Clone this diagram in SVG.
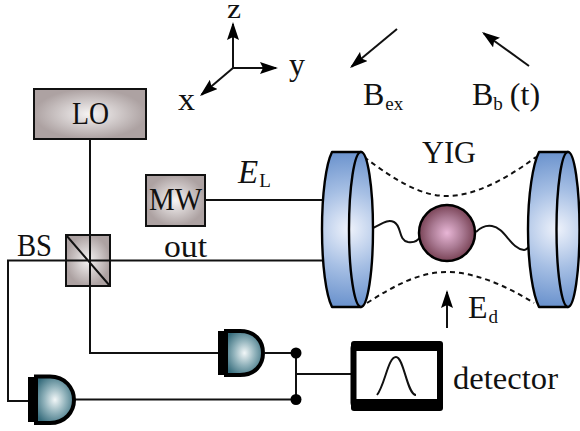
<svg xmlns="http://www.w3.org/2000/svg" width="580" height="431" viewBox="0 0 580 431">
<style>
text{font-family:"Liberation Serif","Times New Roman",serif;font-size:32px;fill:#111}
.sub{font-size:19px}
.ln{fill:none;stroke:#111;stroke-width:2}
.box{stroke:#111;stroke-width:2;fill:url(#grey)}
.cyl{stroke:#000;stroke-width:2.400;stroke-linejoin:round}
.dash{fill:none;stroke:#111;stroke-width:2;stroke-dasharray:5 4}
.dome{fill:url(#teal);stroke:#000;stroke-width:4}
</style>
<defs>
<radialGradient id="grey"><stop offset="0" stop-color="#f6f4f4"/><stop offset="1" stop-color="#ada2a2"/></radialGradient>
<radialGradient id="blueL" gradientUnits="userSpaceOnUse" cx="349" cy="229" r="78"><stop offset="0" stop-color="#eef2fb"/><stop offset="0.5" stop-color="#a6bfe4"/><stop offset="1" stop-color="#6a92cd"/></radialGradient>
<radialGradient id="blueR" gradientUnits="userSpaceOnUse" cx="557" cy="229" r="78"><stop offset="0" stop-color="#eef2fb"/><stop offset="0.5" stop-color="#a6bfe4"/><stop offset="1" stop-color="#6a92cd"/></radialGradient>
<radialGradient id="pink"><stop offset="0" stop-color="#e8b6d6"/><stop offset="0.55" stop-color="#ab7b94"/><stop offset="1" stop-color="#794356"/></radialGradient>
<radialGradient id="teal" cx="0.5" cy="0.5" r="0.58"><stop offset="0" stop-color="#f2f7f8"/><stop offset="0.5" stop-color="#8fb1ba"/><stop offset="1" stop-color="#356b7b"/></radialGradient>
<marker id="ah" viewBox="0 0 18 12" refX="16" refY="6" markerWidth="18" markerHeight="12" markerUnits="userSpaceOnUse" orient="auto"><path d="M0 0L18 6L0 12L3 6Z" fill="#000"/></marker>
</defs>

<g id="connectors">
<path class="ln" d="M90 139V353H220"/>
<path class="ln" d="M322 260.500H8V401H30"/>
<path class="ln" d="M205 200H323"/>
<path class="ln" d="M75 399.500H296M296 353V399.500M265 353H296M296 374H351"/>
<path class="ln" d="M373 228C382 224 387 219 394 222C402 226 398 240 408 242C414 243 418 241 421 236"/>
<path class="ln" d="M476 232C481 227 486 225 492 226C505 228 511 249 524 250C526 250 528 248 530 246"/>
<path class="dash" d="M364 157C395 180 420 196 447 196C474 196 505 180 536 157"/>
<path class="dash" d="M367 303C395 285 420 272 447 272C474 272 505 285 534 303"/>
<path class="ln" d="M447 328V292" marker-end="url(#ah)"/>
<path class="ln" d="M233 68V24" marker-end="url(#ah)"/>
<path class="ln" d="M233 68H276" marker-end="url(#ah)"/>
<path class="ln" d="M233 68L201.500 94.700" marker-end="url(#ah)"/>
<path class="ln" d="M397 29L351.500 66.700" marker-end="url(#ah)"/>
<path class="ln" d="M529 66L483.600 33.200" marker-end="url(#ah)"/>
</g>

<g id="lo"><rect class="box" x="34" y="89" width="112" height="50"/><text x="72" y="124" textLength="37" lengthAdjust="spacingAndGlyphs">LO</text></g>
<g id="mw"><rect class="box" x="146" y="175" width="59" height="51"/><text x="149" y="210" textLength="53" lengthAdjust="spacingAndGlyphs">MW</text></g>
<g id="bs"><rect class="box" x="66" y="235" width="44" height="51"/><path class="ln" d="M66 235L110 286M90 235V286M66 260.500H110"/><text x="17" y="256" textLength="35" lengthAdjust="spacingAndGlyphs">BS</text></g>
<g id="out-label"><text x="164" y="257" textLength="43" lengthAdjust="spacingAndGlyphs">out</text></g>
<g id="el-label"><text x="238" y="183" font-style="italic" style="font-size:33px">E<tspan class="sub" font-style="normal" dy="4" dx="1">L</tspan></text></g>

<g id="mirror-left">
<path class="cyl" fill="url(#blueL)" d="M332 152H361V307H332C326 295 322 265 322 229.500C322 194 326 164 332 152Z"/>
<ellipse class="cyl" fill="url(#blueL)" cx="361" cy="229.500" rx="12" ry="77.500"/>
</g>
<g id="mirror-right">
<path class="cyl" fill="url(#blueR)" d="M539 152H568V307H539C533 295 528 265 528 229.500C528 194 533 164 539 152Z"/>
<ellipse class="cyl" fill="url(#blueR)" cx="568" cy="229.500" rx="11.500" ry="77.500"/>
</g>
<g id="yig"><circle cx="447" cy="233" r="28" fill="url(#pink)" stroke="#000" stroke-width="2.500"/><text x="422" y="163" textLength="54" lengthAdjust="spacingAndGlyphs">YIG</text></g>

<g id="detector-1"><path class="dome" d="M226 331H240C255 331 263 341 263 353C263 365 255 375 240 375H226Z"/><rect x="218" y="331" width="9" height="44" fill="#000"/></g>
<g id="detector-2"><path class="dome" d="M36 376.500H50C65 376.500 74 388 74 400C74 412 65 423 50 423H36Z"/><rect x="28" y="377" width="9" height="45" fill="#000"/></g>
<g id="junctions"><circle cx="296" cy="353" r="5.500" fill="#000"/><circle cx="296" cy="399.500" r="5.500" fill="#000"/></g>
<g id="detector">
<rect x="353.500" y="346" width="86.500" height="59" rx="2" fill="#fff" stroke="#000" stroke-width="6"/>
<rect x="351" y="341" width="92" height="10" rx="3" fill="#000"/><rect x="351" y="399" width="92" height="12" rx="3" fill="#000"/>
<path class="ln" d="M377 395C385 385 388 357 396 357C404 357 407 395 416 395"/>
<text x="453" y="389" textLength="105" lengthAdjust="spacingAndGlyphs">detector</text>
</g>

<g id="axis-labels">
<text x="227" y="18" textLength="14" lengthAdjust="spacingAndGlyphs" style="font-size:28px">z</text>
<text x="289" y="75" textLength="16" lengthAdjust="spacingAndGlyphs">y</text>
<text x="178" y="110" textLength="17" lengthAdjust="spacingAndGlyphs">x</text>
</g>
<g id="field-labels">
<text x="363" y="105">B<tspan class="sub" dy="5" dx="1">ex</tspan></text>
<text x="472" y="105">B<tspan class="sub" dy="5">b</tspan><tspan dy="-5" dx="7">(t)</tspan></text>
<text x="468" y="318">E<tspan class="sub" dy="5" dx="1">d</tspan></text>
</g>
</svg>
